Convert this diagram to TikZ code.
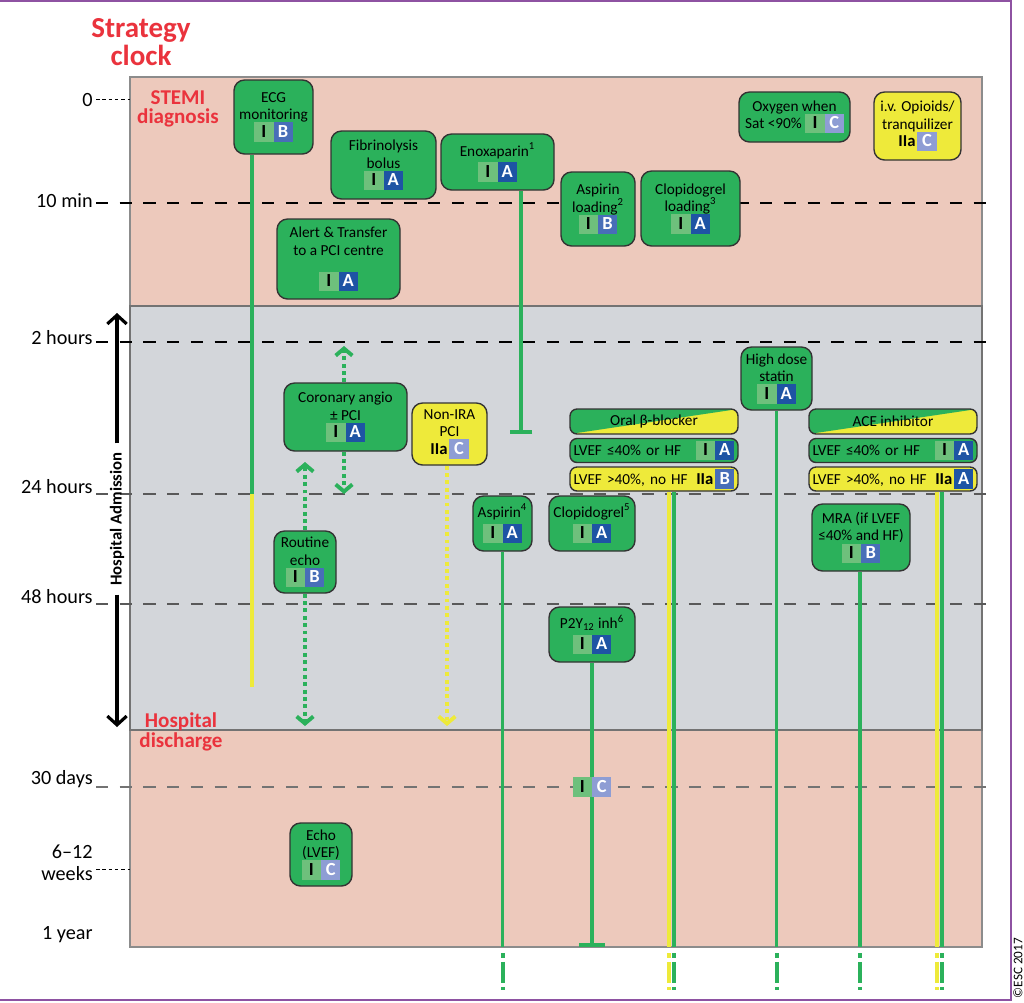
\documentclass[tikz,border=0pt]{standalone}
\usepackage{fontspec}
\setmainfont{Carlito}
\usetikzlibrary{arrows.meta}

\definecolor{pinkbg}{RGB}{237,201,188}
\definecolor{greybg}{RGB}{211,214,218}
\definecolor{escgreen}{RGB}{43,177,91}
\definecolor{escyellow}{RGB}{238,234,58}
\definecolor{escred}{RGB}{234,51,61}
\definecolor{lvI}{RGB}{110,192,124}
\definecolor{lvA}{RGB}{30,84,164}
\definecolor{lvB}{RGB}{72,110,184}
\definecolor{lvC}{RGB}{142,157,212}
\definecolor{framepurple}{RGB}{142,82,162}

% class / level cells
\newcommand{\lvcell}[3]{{\setlength{\fboxsep}{0pt}\colorbox{#1}{\makebox[11pt]{\rule[-2.5pt]{0pt}{11pt}\color{#2}\bfseries\fontsize{10.5}{11}\selectfont #3}}}}
\newcommand{\recI}[1]{\lvcell{lvI}{black}{I}\lvcell{lv#1}{white}{#1}}
\newcommand{\recIIa}[1]{{\bfseries\fontsize{9.5}{11}\selectfont IIa}\hspace{1pt}\lvcell{lv#1}{white}{#1}}

\begin{document}
\begin{tikzpicture}[x=0.02cm,y=-0.02cm,font=\fontsize{8.7}{10}\selectfont,
	wh/.style 2 args={minimum width=#1*0.02cm,minimum height=#2*0.02cm},
	gbox/.style={draw=black!80,line width=0.8pt,rounded corners=6pt,fill=escgreen,align=center,inner sep=1pt},
	ybox/.style={gbox,fill=escyellow},
	hdr/.style={gbox,rounded corners=4pt,fill=escyellow,path picture={\fill[escgreen,sharp corners] (path picture bounding box.north west) -- (path picture bounding box.north east) -- (path picture bounding box.south west) -- cycle;}},
	row/.style={gbox,rounded corners=4pt,align=left,text width=3.22cm,inner xsep=2pt,inner ysep=0pt,minimum height=0.48cm},
	yrow/.style={row,fill=escyellow},
	gline/.style={escgreen,line width=2.2pt},
	yline/.style={escyellow,line width=2.2pt},
	dotg/.style={escgreen,line width=2.2pt,dash pattern=on 2.2pt off 2pt,-{Straight Barb[length=4pt,width=9.5pt]}},
	doty/.style={dotg,escyellow},
	tick/.style={line width=0.6pt,dash pattern=on 7pt off 6.5pt},
	cont/.style={line width=2.2pt,dash pattern=on 2.8pt off 2.2pt on 12pt off 2.2pt},
	lab/.style={font=\fontsize{11.5}{12.5}\selectfont,anchor=east,align=right,inner sep=0pt},
	redlab/.style={text=escred,font=\bfseries\fontsize{12}{11}\selectfont,align=center}]
	\useasboundingbox (0,0) rectangle (1024,1002);

	% frame and panels
	\draw[framepurple,line width=1.5pt] (0,1) -- (1011,1) -- (1011,1000) -- (0,1000);
	\fill[pinkbg] (130,77) rectangle (982,947);
	\fill[greybg] (130,306) rectangle (982,730);
	\draw[black!45,line width=0.8pt] (130,77) rectangle (982,947);
	\draw[black!55,line width=1.2pt] (130,306) rectangle (982,730);

	% time scale
	\foreach \y/\c in {203/black,342/black,494/black!65,604/black!65,787/black!55}
		\draw[tick,\c] (96,\y) -- (992,\y);
	\foreach \y in {99,869}
		\draw[line width=0.5pt,dash pattern=on 2pt off 1.6pt] (96,\y) -- (130,\y);
	\node[lab] (t0) at (93,100) {0};
	\node[lab] (t1) at (93,201) {10 min};
	\node[lab] (t2) at (93,338) {2 hours};
	\node[lab] (t3) at (93,487) {24 hours};
	\node[lab] (t4) at (93,597) {48 hours};
	\node[lab] (t5) at (93,779) {30 days};
	\node[lab] (t6) at (93,863) {6–12\\weeks};
	\node[lab] (t7) at (93,935) {1 year};

	\node[text=escred,font=\bfseries\fontsize{16.5}{16}\selectfont,align=center] (title) at (141,42) {Strategy\\clock};
	\node[redlab] (stemi) at (178,109) {STEMI\\diagnosis};
	\node[redlab] (disch) at (181,732) {Hospital\\discharge};

	\node[rotate=90,font=\bfseries\fontsize{9.5}{10}\selectfont,inner xsep=5pt] (adm) at (117,519) {Hospital Admission};
	\coordinate (admtop) at (117,313);
	\coordinate (admbot) at (117,727);
	\draw[line width=1.8pt,-{Straight Barb[length=5pt,width=11pt]}] (adm.east) -- (admtop);
	\draw[line width=1.8pt,-{Straight Barb[length=5pt,width=11pt]}] (adm.west) -- (admbot);

	% boxes
	\node[gbox,wh={79}{74}] (ecg) at (273.5,117) {ECG\\monitoring\\\recI{B}};
	\node[gbox,wh={105}{68}] (fib) at (383.5,165) {Fibrinolysis\\bolus\\\recI{A}};
	\node[gbox,wh={113}{56}] (enx) at (497.5,162) {Enoxaparin\textsuperscript{1}\\[2pt]\recI{A}};
	\node[gbox,wh={123}{80}] (alert) at (338.5,259) {Alert \& Transfer\\to a PCI centre\\[8pt]\recI{A}};
	\node[gbox,wh={74}{74}] (asl) at (598,209) {Aspirin\\loading\textsuperscript{2}\\\recI{B}};
	\node[gbox,wh={99}{75}] (cll) at (690.5,208.5) {Clopidogrel\\loading\textsuperscript{3}\\\recI{A}};
	\node[gbox,wh={111}{50}] (oxy) at (794.5,117) {Oxygen when\\Sat <90\% \recI{C}};
	\node[ybox,wh={87}{68}] (opi) at (917.5,126) {i.v. Opioids/\\tranquilizer\\\recIIa{C}};

	% connectors
	\coordinate (ecgsplit) at (252,494);
	\coordinate (ecgend) at (252,687);
	\coordinate (enxend) at (521,434);
	\coordinate (yend) at (0,947);
	\coordinate (pciup) at (344,346);
	\coordinate (pcidn) at (344,494);
	\coordinate (echup) at (305,462);
	\coordinate (echdn) at (305,726);
	\coordinate (niradn) at (447,726);

	\node[gbox,wh={123}{68}] (pci) at (345.5,417) {Coronary angio\\± PCI\\\recI{A}};
	\node[ybox,wh={75}{62}] (nira) at (449.5,434) {Non-IRA\\PCI\\\recIIa{C}};
	\node[gbox,wh={62}{62}] (rech) at (305,562) {Routine\\echo\\\recI{B}};

	\draw[gline] (ecg.south -| ecgsplit) -- (ecgsplit);
	\draw[yline] (ecgsplit) -- (ecgend);
	\draw[gline,-{Bar[width=13pt]}] (enx.south -| enxend) -- (enxend);
	\draw[dotg] (pci.north -| pciup) -- (pciup);
	\draw[dotg] (pci.south -| pcidn) -- (pcidn);
	\draw[dotg] (rech.north) -- (echup);
	\draw[dotg] (rech.south) -- (echdn);
	\draw[doty] (nira.south -| niradn) -- (niradn);

	\node[gbox,wh={71}{63}] (sta) at (776.5,378.5) {High dose\\statin\\\recI{A}};
	\node[hdr,wh={168}{25}] (bbh) at (654,421.5) {Oral β-blocker};
	\node[row] (bb1) at (654,450.5) {LVEF ≤40\% or HF\hfill\recI{A}};
	\node[yrow] (bb2) at (654,479) {LVEF >40\%, no HF\hfill\recIIa{B}};
	\node[hdr,wh={168}{25}] (aceh) at (893,421.5) {ACE inhibitor};
	\node[row] (ace1) at (893,450.5) {LVEF ≤40\% or HF\hfill\recI{A}};
	\node[yrow] (ace2) at (893,479) {LVEF >40\%, no HF\hfill\recIIa{A}};
	\node[gbox,wh={59}{55}] (asp) at (502.5,523.5) {Aspirin\textsuperscript{4}\\[2pt]\recI{A}};
	\node[gbox,wh={86}{55}] (clo) at (592,523.5) {Clopidogrel\textsuperscript{5}\\[2pt]\recI{A}};
	\node[gbox,wh={86}{55}] (p2y) at (592,634.5) {P2Y\textsubscript{12} inh\textsuperscript{6}\\[2pt]\recI{A}};
	\node[gbox,wh={98}{67}] (mra) at (861,537.5) {MRA (if LVEF\\≤40\% and HF)\\\recI{B}};
	\node[gbox,wh={62}{63}] (lvef) at (321,854.5) {Echo\\(LVEF)\\\recI{C}};

	\draw[gline] (asp.south) -- (asp.south |- yend);
	\draw[gline] (sta.south) -- (sta.south |- yend);
	\draw[gline] (mra.south -| 860,0) -- (860,947);
	\draw[yline] (bb2.south -| 669,0) -- (669,947);
	\draw[gline] (bb2.south -| 674,0) -- (674,947);
	\draw[yline] (ace2.south -| 937,0) -- (937,947);
	\draw[gline] (ace2.south -| 942,0) -- (942,947);
	\draw[gline,-{Bar[width=15pt]}] (p2y.south) -- (p2y.south |- yend);
	\node[inner sep=0pt] (p2ylv) at (592,787) {\recI{C}};

	% beyond one year
	\foreach \x/\c in {503/escgreen,669/escyellow,674/escgreen,777/escgreen,860/escgreen,937/escyellow,942/escgreen}
		\draw[cont,\c] (\x,953) -- (\x,990);

	\node[rotate=90,font=\fontsize{7.5}{8}\selectfont,inner sep=0pt] (esc) at (1018,968) {©ESC 2017};
\end{tikzpicture}
\end{document}
